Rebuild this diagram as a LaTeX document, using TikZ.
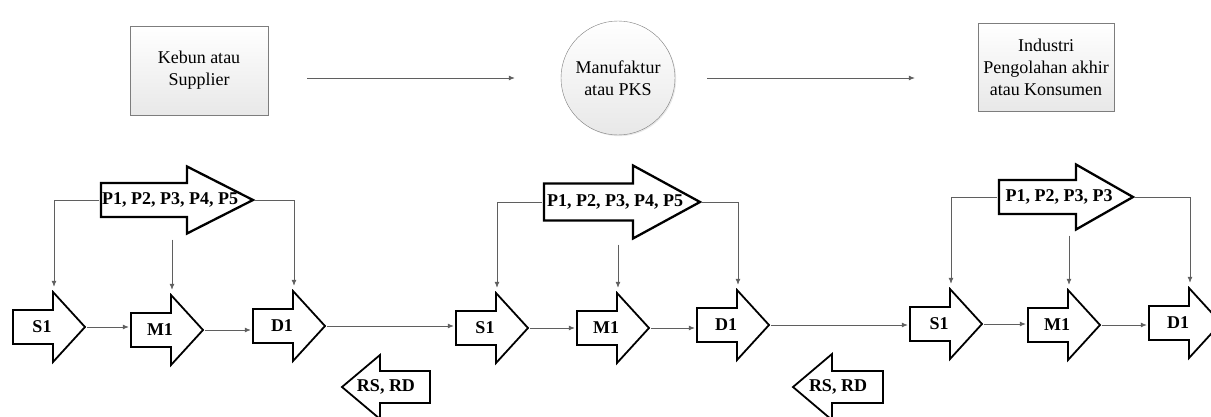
\documentclass[tikz,border=0pt]{standalone}
\usepackage{fontspec}
\setmainfont{Liberation Serif}
\usetikzlibrary{arrows.meta,calc,shadows}
\definecolor{linegray}{RGB}{95,95,95}
\definecolor{boxline}{RGB}{125,125,125}
\tikzset{
  topbox/.style={draw=boxline,top color=white,bottom color=black!9,
    drop shadow={opacity=.18,shadow xshift=1.2pt,shadow yshift=-1.2pt},
    align=center,inner sep=2pt,font=\fontsize{18}{22}\selectfont},
  outline/.style={line width=1.8pt,line join=miter},
  bigline/.style={outline/.style={line width=2.3pt,line join=miter}},
  rarrow/.style n args={4}{minimum width=#1+#2+4,minimum height=#4+4,inner sep=0pt,
    font=\fontsize{18}{22}\selectfont\bfseries,execute at end node={\hspace*{14pt}},
    path picture={\draw[outline] ([xshift=2pt]path picture bounding box.west) ++(0,#3/2)
      -- ++(#1,0) -- ++(0,#4/2-#3/2) -- ++(#2,-#4/2) -- ++(-#2,-#4/2)
      -- ++(0,#4/2-#3/2) -- ++(-#1,0) -- cycle;}},
  larrow/.style n args={4}{minimum width=#1+#2+4,minimum height=#4+4,inner sep=0pt,
    font=\fontsize{18}{22}\selectfont\bfseries,
    path picture={\draw[outline] ([xshift=-2pt]path picture bounding box.east) ++(0,#3/2)
      -- ++(-#1,0) -- ++(0,#4/2-#3/2) -- ++(-#2,-#4/2) -- ++(#2,-#4/2)
      -- ++(0,#4/2-#3/2) -- ++(#1,0) -- cycle;}},
  step arrow/.style={rarrow={40}{32}{34}{70}},
  flow/.style={-{Latex[length=6pt,width=5pt]},line width=0.8pt,draw=linegray}
}

\begin{document}
\begin{tikzpicture}[x=1pt,y=1pt]
  \useasboundingbox (0,0) rectangle (1211,416);
  \node[topbox,minimum width=138,minimum height=89] (kebun) at (199,345.5) {Kebun atau\\Supplier};
  \node[topbox,circle,minimum size=114] (pks) at (618,338) {Manufaktur\\atau PKS};
  \node[topbox,minimum width=136,minimum height=88] (industri) at (1046,349) {Industri\\Pengolahan akhir\\atau Konsumen};
  \draw[flow,shorten <=39pt,shorten >=46pt] (kebun.east |- pks) -- (pks.west);
  \draw[flow,shorten <=32pt,shorten >=63pt] (pks.east) -- (pks.east -| industri.west);

  % supplier
  \node[step arrow] (s1a) at (49,89) {S1};
  \node[step arrow] (m1a) at (167,86) {M1};
  \node[step arrow] (d1a) at (289,90) {D1};
  \node[rarrow={86}{66}{34}{67},bigline] (p1a) at (177,216) {P1, P2, P3, P4, P5};
  \node[larrow={50}{38}{32}{64}] (rs1) at (386,29) {RS, RD};
  % manufaktur
  \node[step arrow] (s1b) at (492,88) {S1};
  \node[step arrow] (m1b) at (613,88) {M1};
  \node[step arrow] (d1b) at (733,91) {D1};
  \node[rarrow={89}{67}{37}{73},bigline] (p1b) at (622,214) {P1, P2, P3, P4, P5};
  \node[larrow={51}{39}{32}{66}] (rs2) at (838,29) {RS, RD};
  % konsumen
  \node[step arrow] (s1c) at (946,92) {S1};
  \node[step arrow] (m1c) at (1064,91) {M1};
  \node[step arrow] (d1c) at (1185,93) {D1};
  \node[rarrow={77}{57}{34}{65},bigline] (p1c) at (1066,219) {P1, P2, P3, P3};

  \foreach \nm in {s1a,m1a,d1a,s1b,m1b,d1b,s1c,m1c,d1c}
    \coordinate (\nm-in) at ([xshift=5pt]\nm.north);

  \foreach \s/\m/\d/\p in {s1a/m1a/d1a/p1a,s1b/m1b/d1b/p1b,s1c/m1c/d1c/p1c}{
    \draw[flow] (\s.east) -- (\s.east -| \m.west);
    \draw[flow] (\m.east) -- (\m.east -| \d.west);
    \draw[flow,shorten >=3pt] (\p.west) -| (\s-in);
    \draw[flow,shorten >=3pt] (\p.east) -| (\d-in);
    \draw[flow,shorten <=4pt,shorten >=3pt] (\p.south -| \m-in) -- (\m-in);
  }
  \draw[flow] (d1a.east) -- (d1a.east -| s1b.west);
  \draw[flow] (d1b.east) -- (d1b.east -| s1c.west);
\end{tikzpicture}
\end{document}
